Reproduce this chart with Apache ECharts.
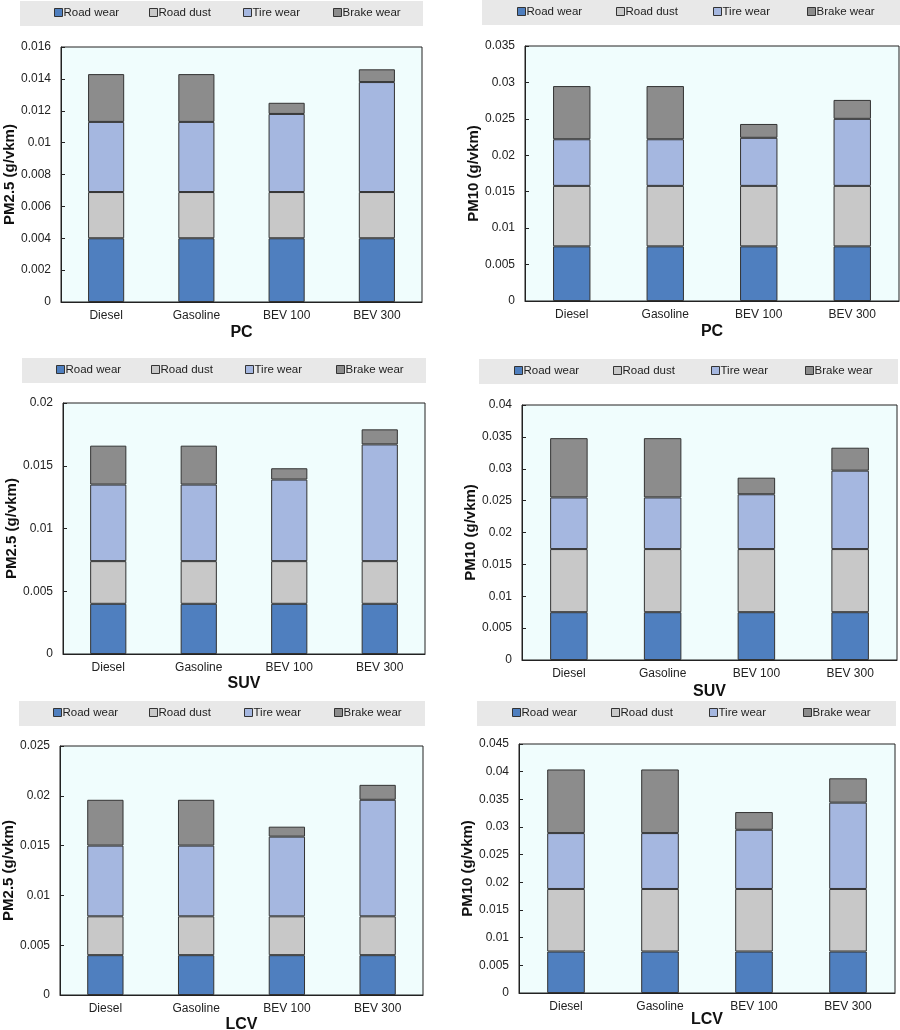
<!DOCTYPE html>
<html>
<head>
<meta charset="utf-8">
<script src="https://cdn.jsdelivr.net/npm/echarts@6/dist/echarts.min.js"></script>
<style>
  html, body { margin: 0; padding: 0; background: #fff; }
  #page { position: relative; width: 900px; height: 1030px; overflow: hidden; }
  .panel { position: absolute; width: 450px; height: 360px; }
</style>
</head>
<body>
<div id="page">
  <div class="panel" id="pcPm25" style="left:0;top:0"></div>
  <div class="panel" id="pcPm10" style="left:450px;top:0"></div>
  <div class="panel" id="suvPm25" style="left:0;top:345px"></div>
  <div class="panel" id="suvPm10" style="left:450px;top:345px"></div>
  <div class="panel" id="lcvPm25" style="left:0;top:690px;height:340px"></div>
  <div class="panel" id="lcvPm10" style="left:450px;top:690px;height:340px"></div>
</div>
<script>
const CATEGORIES = ["Diesel", "Gasoline", "BEV 100", "BEV 300"];
const COMPONENTS = ["Road wear", "Road dust", "Tire wear", "Brake wear"];

// g/vkm, stacked in COMPONENTS order
const PC_PM25_ROAD  = [0.004, 0.004, 0.004, 0.004];
const PC_PM25_DUST  = [0.0029, 0.0029, 0.0029, 0.0029];
const PC_PM25_TIRE  = [0.0044, 0.0044, 0.0049, 0.0069];
const PC_PM25_BRAKE = [0.003, 0.003, 0.0007, 0.0008];

const PC_PM10_ROAD  = [0.0075, 0.0075, 0.0075, 0.0075];
const PC_PM10_DUST  = [0.0083, 0.0083, 0.0083, 0.0083];
const PC_PM10_TIRE  = [0.0064, 0.0064, 0.0066, 0.0092];
const PC_PM10_BRAKE = [0.0073, 0.0073, 0.0019, 0.0026];

const SUV_PM25_ROAD  = [0.004, 0.004, 0.004, 0.004];
const SUV_PM25_DUST  = [0.0034, 0.0034, 0.0034, 0.0034];
const SUV_PM25_TIRE  = [0.0061, 0.0061, 0.0065, 0.0093];
const SUV_PM25_BRAKE = [0.0031, 0.0031, 0.0009, 0.0012];

const SUV_PM10_ROAD  = [0.0075, 0.0075, 0.0075, 0.0075];
const SUV_PM10_DUST  = [0.0099, 0.0099, 0.0099, 0.0099];
const SUV_PM10_TIRE  = [0.0081, 0.0081, 0.0086, 0.0123];
const SUV_PM10_BRAKE = [0.0093, 0.0093, 0.0026, 0.0036];

const LCV_PM25_ROAD  = [0.004, 0.004, 0.004, 0.004];
const LCV_PM25_DUST  = [0.0039, 0.0039, 0.0039, 0.0039];
const LCV_PM25_TIRE  = [0.0071, 0.0071, 0.008, 0.0117];
const LCV_PM25_BRAKE = [0.0046, 0.0046, 0.001, 0.0015];

const LCV_PM10_ROAD  = [0.0075, 0.0075, 0.0075, 0.0075];
const LCV_PM10_DUST  = [0.0113, 0.0113, 0.0113, 0.0113];
const LCV_PM10_TIRE  = [0.0101, 0.0101, 0.0107, 0.0156];
const LCV_PM10_BRAKE = [0.0115, 0.0115, 0.0032, 0.0044];

const COLOR = {
  "Road wear":  "#4f7fbf",
  "Road dust":  "#c8c8c8",
  "Tire wear":  "#a5b7e0",
  "Brake wear": "#8c8c8c",
};

// legend item positions as a fraction of the legend box width
const LEGEND_SLOTS = [0.084, 0.32, 0.553, 0.777];

const FONT = "'Liberation Sans', Arial, sans-serif";

const PANELS = [
  { id: "pcPm25", vehicle: "PC", yName: "PM2.5 (g/vkm)", max: 0.016, step: 0.002,
    data: [PC_PM25_ROAD, PC_PM25_DUST, PC_PM25_TIRE, PC_PM25_BRAKE],
    legendBox: [20, 1, 403, 25], grid: [61, 47, 361, 255], titleGap: 23 },
  { id: "pcPm10", vehicle: "PC", yName: "PM10 (g/vkm)", max: 0.035, step: 0.005,
    data: [PC_PM10_ROAD, PC_PM10_DUST, PC_PM10_TIRE, PC_PM10_BRAKE],
    legendBox: [32, 0, 418, 25], grid: [75, 46, 374, 255], titleGap: 23 },
  { id: "suvPm25", vehicle: "SUV", yName: "PM2.5 (g/vkm)", max: 0.02, step: 0.005,
    data: [SUV_PM25_ROAD, SUV_PM25_DUST, SUV_PM25_TIRE, SUV_PM25_BRAKE],
    legendBox: [22, 13, 404, 25], grid: [63, 58, 362, 251], titleGap: 22 },
  { id: "suvPm10", vehicle: "SUV", yName: "PM10 (g/vkm)", max: 0.04, step: 0.005,
    data: [SUV_PM10_ROAD, SUV_PM10_DUST, SUV_PM10_TIRE, SUV_PM10_BRAKE],
    legendBox: [29, 14, 419, 25], grid: [72, 60, 375, 255], titleGap: 24 },
  { id: "lcvPm25", vehicle: "LCV", yName: "PM2.5 (g/vkm)", max: 0.025, step: 0.005,
    data: [LCV_PM25_ROAD, LCV_PM25_DUST, LCV_PM25_TIRE, LCV_PM25_BRAKE],
    legendBox: [19, 11, 406, 25], grid: [60, 56, 363, 249], titleGap: 22 },
  { id: "lcvPm10", vehicle: "LCV", yName: "PM10 (g/vkm)", max: 0.045, step: 0.005,
    data: [LCV_PM10_ROAD, LCV_PM10_DUST, LCV_PM10_TIRE, LCV_PM10_BRAKE],
    legendBox: [27, 11, 419, 25], grid: [69, 54, 376, 249], titleGap: 19 },
];

document.addEventListener("DOMContentLoaded", () => {
  PANELS.forEach(drawPanel);
});

function drawPanel(p) {
  const chart = echarts.init(document.getElementById(p.id));
  const [bx, by, bw, bh] = p.legendBox;
  const [gl, gt, gw, gh] = p.grid;
  const legends = COMPONENTS.map((name, i) => ({
    data: [name], padding: 0,
    left: Math.round(bx + bw * LEGEND_SLOTS[i]), top: by + bh / 2 - 7,
    icon: "rect", itemWidth: 8, itemHeight: 8,
    itemStyle: { borderColor: "#333", borderWidth: 1 },
    textStyle: { fontSize: 11.5, color: "#222", padding: [0, 0, 0, -4] },
  }));
  chart.setOption({
    animation: false,
    textStyle: { fontFamily: FONT },
    graphic: [{
      type: "rect", z: -10,
      shape: { x: bx, y: by, width: bw, height: bh },
      style: { fill: "#e8e8e8" },
    }],
    legend: legends,
    grid: {
      left: gl, top: gt, width: gw, height: gh,
      outerBoundsMode: "none", containLabel: false,
      show: true, backgroundColor: "#f0fdfd", borderColor: "#222", borderWidth: 1,
    },
    xAxis: {
      type: "category", data: CATEGORIES,
      name: p.vehicle, nameLocation: "middle", nameGap: p.titleGap, nameMoveOverlap: false,
      nameTextStyle: { fontSize: 16, fontWeight: "bold", color: "#111" },
      axisLine: { lineStyle: { color: "#222" } },
      axisTick: { inside: true, length: 4, lineStyle: { color: "#222" } },
      axisLabel: { fontSize: 12, color: "#222", margin: 8 },
    },
    yAxis: {
      type: "value", min: 0, max: p.max, interval: p.step,
      name: p.yName, nameLocation: "middle", nameGap: 44, nameMoveOverlap: false,
      nameTextStyle: { fontSize: 15, fontWeight: "bold", color: "#111" },
      axisLine: { show: true, lineStyle: { color: "#222" } },
      axisTick: { show: true, inside: true, length: 4, lineStyle: { color: "#222" } },
      axisLabel: { fontSize: 12, color: "#222", margin: 10 },
      splitLine: { show: false },
    },
    series: COMPONENTS.map((name, i) => ({
      name, type: "bar", stack: "total", barWidth: "40%",
      itemStyle: { color: COLOR[name], borderColor: "#333", borderWidth: 1 },
      data: p.data[i],
    })),
  });
}
</script>
</body>
</html>
